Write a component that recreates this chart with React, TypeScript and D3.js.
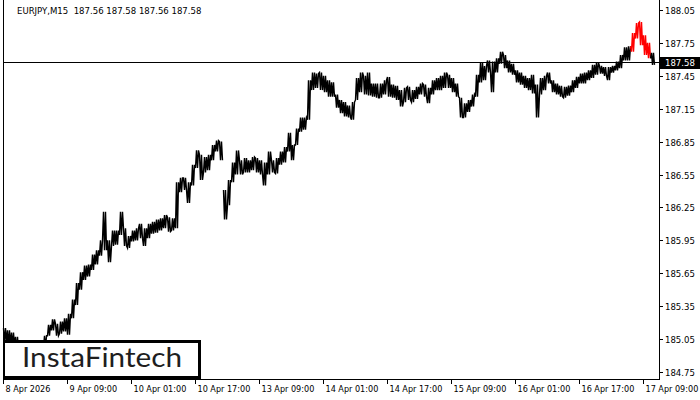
import React from "react";
import * as d3 from "d3";

// Hourly (4 x M15) high / low envelope of EURJPY
const hourHigh: number[] = [
  185.15, 185.13, 185.11, 185.07, 185.01, 184.99, 184.99, 185.0, 185.02, 185.03,
  185.08, 185.18, 185.23, 185.19, 185.21, 185.24, 185.28, 185.41, 185.56, 185.66,
  185.72, 185.73, 185.82, 185.86, 185.95, 186.21, 185.95, 186.04, 186.04, 186.21,
  186.06, 185.99, 186.04, 186.06, 186.1, 186.06, 186.1, 186.12, 186.14, 186.15,
  186.18, 186.16, 186.15, 186.48, 186.52, 186.52, 186.48, 186.64, 186.77, 186.73,
  186.71, 186.73, 186.82, 186.86, 186.85, 186.41, 186.5, 186.66, 186.77, 186.68,
  186.7, 186.68, 186.71, 186.7, 186.68, 186.66, 186.76, 186.68, 186.7, 186.76,
  186.8, 186.93, 186.82, 186.97, 187.07, 187.07, 187.41, 187.48, 187.47, 187.48,
  187.45, 187.41, 187.39, 187.28, 187.23, 187.21, 187.18, 187.21, 187.43, 187.48,
  187.45, 187.48, 187.38, 187.38, 187.38, 187.41, 187.44, 187.37, 187.36, 187.32,
  187.34, 187.35, 187.32, 187.35, 187.38, 187.37, 187.34, 187.41, 187.43, 187.45,
  187.48, 187.46, 187.43, 187.38, 187.25, 187.2, 187.23, 187.28, 187.46, 187.57,
  187.54, 187.59, 187.58, 187.61, 187.67, 187.64, 187.59, 187.56, 187.5, 187.48,
  187.45, 187.43, 187.46, 187.37, 187.43, 187.45, 187.48, 187.41, 187.38, 187.36,
  187.35, 187.36, 187.41, 187.44, 187.47, 187.48, 187.5, 187.55, 187.57, 187.54,
  187.53, 187.53, 187.54, 187.58, 187.64, 187.71, 187.72, 187.84, 187.93, 187.94,
  187.82, 187.75, 187.66,
];
const hourLow: number[] = [
  185.02, 185.0, 184.99, 184.95, 184.9, 184.88, 184.86, 184.9, 184.91, 184.93,
  184.97, 185.08, 185.13, 185.08, 185.1, 185.12, 185.09, 185.24, 185.36, 185.5,
  185.59, 185.62, 185.68, 185.73, 185.81, 185.86, 185.75, 185.9, 185.91, 186.0,
  185.9, 185.88, 185.94, 185.95, 185.97, 185.9, 185.97, 186.01, 186.02, 186.04,
  186.06, 186.03, 186.04, 186.06, 186.39, 186.41, 186.29, 186.45, 186.61, 186.5,
  186.57, 186.59, 186.68, 186.76, 186.68, 186.14, 186.27, 186.48, 186.55, 186.55,
  186.57, 186.57, 186.59, 186.57, 186.55, 186.45, 186.55, 186.57, 186.56, 186.64,
  186.66, 186.76, 186.68, 186.82, 186.94, 186.96, 187.05, 187.32, 187.34, 187.32,
  187.3, 187.26, 187.26, 187.16, 187.11, 187.08, 187.07, 187.05, 187.23, 187.3,
  187.28, 187.27, 187.26, 187.25, 187.25, 187.28, 187.26, 187.25, 187.23, 187.17,
  187.21, 187.23, 187.21, 187.24, 187.28, 187.26, 187.2, 187.28, 187.32, 187.32,
  187.34, 187.34, 187.3, 187.26, 187.07, 187.07, 187.12, 187.17, 187.26, 187.39,
  187.41, 187.48, 187.3, 187.48, 187.56, 187.52, 187.48, 187.46, 187.39, 187.37,
  187.34, 187.32, 187.29, 187.07, 187.28, 187.32, 187.38, 187.3, 187.28, 187.26,
  187.25, 187.27, 187.3, 187.34, 187.38, 187.38, 187.41, 187.43, 187.46, 187.47,
  187.45, 187.41, 187.48, 187.5, 187.52, 187.59, 187.59, 187.67, 187.79, 187.73,
  187.64, 187.61, 187.55,
];
// pattern highlight (red) hours
const redHours: number[] = [157, 158, 159, 160, 161];
// session breaks (weekend) after these hours
const sessionBreaks: number[] = [54];

const timeTickHours: number[] = [0, 16, 32, 48, 64, 80, 96, 112, 128, 144, 160];
const timeTickLabels: string[] = [
  "8 Apr 2026", "9 Apr 09:00", "10 Apr 01:00", "10 Apr 17:00", "13 Apr 09:00",
  "14 Apr 01:00", "14 Apr 17:00", "15 Apr 09:00", "16 Apr 01:00", "16 Apr 17:00",
  "17 Apr 09:00",
];
const priceTicks: number[] = [
  188.05, 187.75, 187.45, 187.15, 186.85, 186.55, 186.25, 185.95, 185.65, 185.35, 185.05, 184.75,
];
const lastPrice = 187.58;
const titleText = "EURJPY,M15  187.56 187.58 187.56 187.58";
const logoText = "InstaFintech";

const W = 700;
const H = 400;
const plotLeft = 3;
const plotRight = 659;
const plotBottom = 379;
const axisFont = "'DejaVu Sans Condensed', 'DejaVu Sans', 'Liberation Sans', sans-serif";

export default function App() {
  const x = d3.scaleLinear().domain([0, 1]).range([plotLeft, plotLeft + 4]);
  const y = d3.scaleLinear().domain([184.75, 188.05]).range([372, 10]);
  const red = new Set(redHours);
  const breaks = new Set(sessionBreaks);
  const n = hourHigh.length;
  const mid = (i: number) => (hourHigh[i] + hourLow[i]) / 2;

  // Each hour is traced as a zig-zag between its low and high (like dense M15 bars)
  type Pt = [number, number];
  const pts: Pt[][] = [];
  for (let i = 0; i < n; i++) {
    const nextMid = i < n - 1 ? mid(i + 1) : mid(i);
    const prevMid = i > 0 ? mid(i - 1) : mid(i);
    const rising = nextMid >= prevMid;
    const a = rising ? hourLow[i] : hourHigh[i];
    const b = rising ? hourHigh[i] : hourLow[i];
    pts.push([
      [x(i) + 0.5, y(a)],
      [x(i) + 1.5, y(b)],
      [x(i) + 2.5, y(a)],
      [x(i) + 3.5, y(b)],
    ]);
  }
  const line = d3.line<Pt>().x((d) => d[0]).y((d) => d[1]);
  const segments: { pts: Pt[]; color: string }[] = [];
  let cur: Pt[] = [];
  let curColor = red.has(0) ? "#ff0000" : "#000";
  for (let i = 0; i < n; i++) {
    const c = red.has(i) ? "#ff0000" : "#000";
    if (c !== curColor) {
      segments.push({ pts: cur, color: curColor });
      cur = [cur[cur.length - 1]];
      curColor = c;
    }
    cur.push(...pts[i]);
    if (breaks.has(i)) {
      segments.push({ pts: cur, color: curColor });
      cur = [];
    }
  }
  segments.push({ pts: cur, color: curColor });

  return (
    <svg
      width={W}
      height={H}
      style={{ position: "absolute", left: 0, top: 0, background: "#fff" }}
    >
      <rect x={0} y={0} width={W} height={H} fill="#fff" />
      {/* bars */}
      {segments.map((s, k) => (
        <path key={k} d={line(s.pts) || ""} fill="none" stroke={s.color} strokeWidth={1.4} strokeLinejoin="miter" />
      ))}
      <g shapeRendering="crispEdges">
        {/* last price line */}
        <line x1={plotLeft} x2={plotRight} y1={Math.round(y(lastPrice)) + 0.5} y2={Math.round(y(lastPrice)) + 0.5} stroke="#000" strokeWidth={1} />
        {/* frame */}
        <line x1={plotLeft + 0.5} x2={plotLeft + 0.5} y1={0} y2={plotBottom} stroke="#000" strokeWidth={1} />
        <line x1={plotLeft} x2={plotRight + 1} y1={plotBottom + 0.5} y2={plotBottom + 0.5} stroke="#000" strokeWidth={1} />
        <line x1={plotRight + 0.5} x2={plotRight + 0.5} y1={0} y2={plotBottom + 1} stroke="#000" strokeWidth={1} />
        {/* price axis */}
        {priceTicks.map((p) => {
          const yy = Math.round(y(p)) + 0.5;
          return (
            <g key={p}>
              <line x1={plotRight} x2={plotRight + 4} y1={yy} y2={yy} stroke="#000" />
              <text x={665} y={yy} dy="0.35em" fontFamily={axisFont} fontSize={9.5} fill="#000">
                {p.toFixed(2)}
              </text>
            </g>
          );
        })}
        {/* current price label */}
        <rect x={plotRight + 1} y={Math.round(y(lastPrice)) - 5} width={41} height={12} fill="#000" />
        <text x={665} y={Math.round(y(lastPrice)) + 1} dy="0.35em" fontFamily={axisFont} fontSize={9.5} fill="#fff">
          {lastPrice.toFixed(2)}
        </text>
        {/* time axis */}
        {timeTickHours.map((h, i) => {
          const xx = Math.round(x(h)) + 0.5;
          return (
            <g key={h}>
              <line x1={xx} x2={xx} y1={plotBottom} y2={plotBottom + 5} stroke="#000" />
              <text x={xx + 2} y={392} fontFamily={axisFont} fontSize={9} fill="#000">
                {timeTickLabels[i]}
              </text>
            </g>
          );
        })}
        {/* logo */}
        <rect x={4} y={341.5} width={195.5} height={36} fill="#fff" stroke="#000" strokeWidth={2.5} />
      </g>
      {/* title */}
      <text x={17} y={14} fontFamily={axisFont} fontSize={9.5} fill="#000" style={{ whiteSpace: "pre" }}>
        {titleText}
      </text>
      <text
        x={22}
        y={367}
        fontFamily="Lato, 'Open Sans', sans-serif"
        fontSize={27}
        fill="#1e1e1e"
        textLength={160}
        lengthAdjust="spacingAndGlyphs"
      >
        {logoText}
      </text>
    </svg>
  );
}
